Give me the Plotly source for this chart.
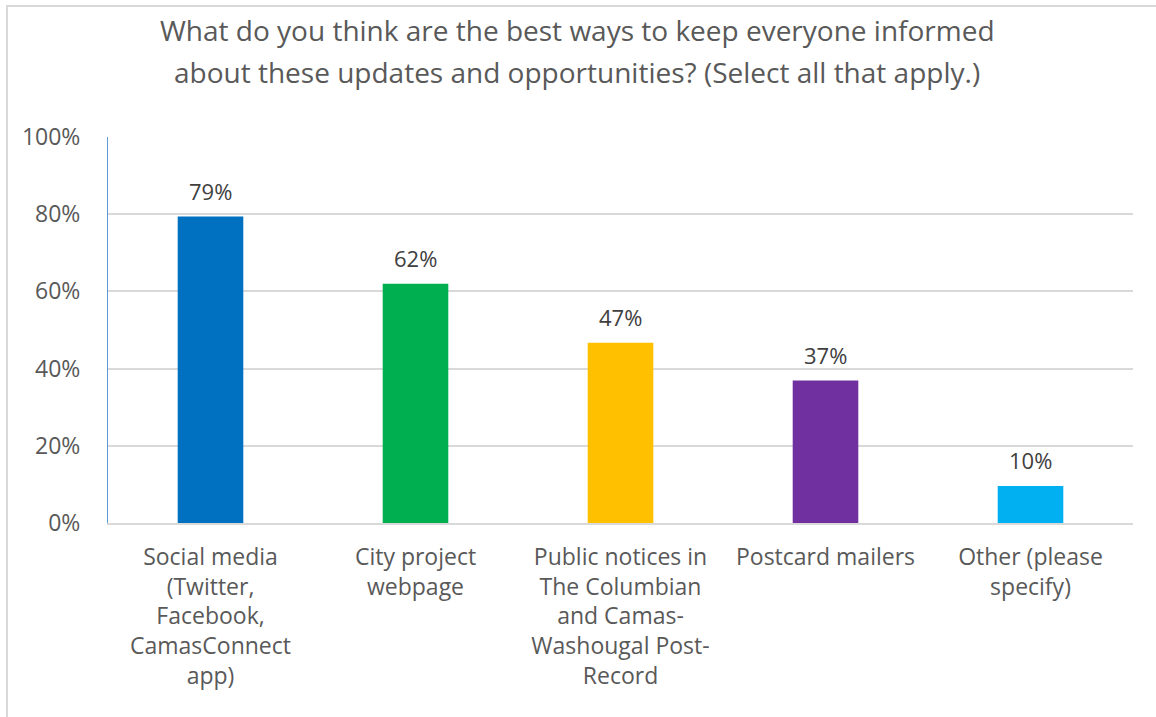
import plotly.graph_objects as go

categories = [
    "Social media<br>(Twitter,<br>Facebook,<br>CamasConnect<br>app)",
    "City project<br>webpage",
    "Public notices in<br>The Columbian<br>and Camas-<br>Washougal Post-<br>Record",
    "Postcard mailers",
    "Other (please<br>specify)",
]
values = [79.4, 62.0, 46.7, 36.9, 9.6]
labels = ["79%", "62%", "47%", "37%", "10%"]
colors = ["#0070C0", "#00B050", "#FFC000", "#7030A0", "#00B0F0"]
title_lines = [
    "What do you think are the best ways to keep everyone informed",
    "about these updates and opportunities? (Select all that apply.)",
]

font_family = "Open Sans, sans-serif"
grey = "#595959"

fig = go.Figure()
fig.add_trace(go.Bar(
    x=categories,
    y=values,
    marker=dict(color=colors, line=dict(width=0)),
    width=0.32,
    showlegend=False,
    hoverinfo="x+y",
))

# data labels sit a bit above each bar
for cat, val, lab in zip(categories, values, labels):
    fig.add_annotation(
        x=cat, y=val, text=lab, showarrow=False,
        yanchor="middle", yshift=26,
        font=dict(size=22, color="#404040", family=font_family),
    )

# title drawn as two lines to get the wider line spacing
for line, ypos in zip(title_lines, [1.277, 1.168]):
    fig.add_annotation(
        xref="paper", yref="paper", x=0.4576, y=ypos,
        xanchor="center", yanchor="middle", showarrow=False,
        text=line, font=dict(size=28, color=grey, family=font_family),
    )

fig.update_layout(
    width=1156, height=717,
    paper_bgcolor="white", plot_bgcolor="white",
    margin=dict(l=108, r=23, t=137, b=194),
    font=dict(family=font_family, color=grey),
    shapes=[dict(type="rect", xref="paper", yref="paper",
                 x0=-101/1025, x1=1.1, y0=-0.6, y1=517/386,
                 line=dict(color="#D9D9D9", width=2))],
)

fig.update_yaxes(
    range=[0, 100], dtick=20, ticksuffix="%",
    showgrid=True, gridcolor="#D9D9D9", gridwidth=2,
    showline=True, linecolor="#5B9BD5", linewidth=1,
    tickfont=dict(size=23, color=grey), ticks="", zeroline=False,
    ticklabelstandoff=22,
)
fig.update_xaxes(
    showline=True, linecolor="#D9D9D9", linewidth=2,
    tickfont=dict(size=23, color=grey), ticks="",
    ticklabelstandoff=12,
)

fig.write_html("out.html", config={"displayModeBar": False},
               post_script="document.body.style.margin='0';")
